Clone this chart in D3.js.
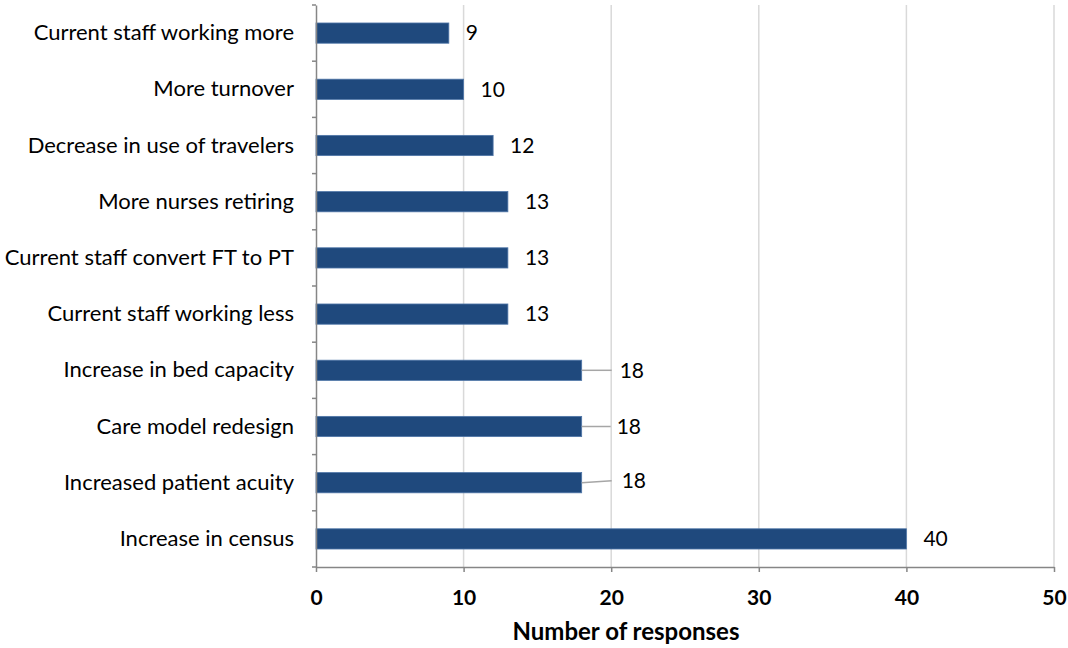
<!DOCTYPE html>
<html>
<head>
<meta charset="utf-8">
<script src="https://cdn.jsdelivr.net/npm/d3@7"></script>
<style>
  body { margin: 0; background: #fff; }
  text { font-family: "Lato", "Open Sans", sans-serif; }
</style>
</head>
<body>
<svg id="chart" width="1068" height="648"></svg>
<script>
// categories top to bottom, as in the picture
var categories = [
  "Current staff working more",
  "More turnover",
  "Decrease in use of travelers",
  "More nurses retiring",
  "Current staff convert FT to PT",
  "Current staff working less",
  "Increase in bed capacity",
  "Care model redesign",
  "Increased patient acuity",
  "Increase in census"
];
var responses = [9, 10, 12, 13, 13, 13, 18, 18, 18, 40];
var xTicks = [0, 10, 20, 30, 40, 50];
var xTitle = "Number of responses";

var svg = d3.select("#chart"),
    margin = {top: 5, right: 14, bottom: 81, left: 316},
    width = 1068 - margin.left - margin.right,
    height = 648 - margin.top - margin.bottom;

var g = svg.append("g").attr("transform", "translate(" + margin.left + "," + margin.top + ")");

var x = d3.scaleLinear().domain([0, 50]).range([0, width]);
var y = d3.scaleBand().domain(categories).range([0, height]).paddingInner(0.64).paddingOuter(0.32);

// gridlines
g.append("g")
  .selectAll("line")
  .data(xTicks.slice(1))
  .enter().append("line")
  .attr("x1", function(d) { return x(d); })
  .attr("x2", function(d) { return x(d); })
  .attr("y1", 0)
  .attr("y2", height)
  .attr("stroke", "#d9d9d9")
  .attr("stroke-width", 1.5);

// bars
g.append("g")
  .selectAll("rect")
  .data(categories)
  .enter().append("rect")
  .attr("x", 0)
  .attr("y", function(d) { return y(d); })
  .attr("width", function(d, i) { return x(responses[i]); })
  .attr("height", y.bandwidth())
  .attr("fill", "#1f497d")
  .attr("stroke", "#4f76a8")
  .attr("stroke-width", 0.8);

// value labels (the 18s sit further out with a leader line)
var leader = {"Increase in bed capacity": 0, "Care model redesign": -3, "Increased patient acuity": 2};
categories.forEach(function(c, i) {
  var v = responses[i],
      cy = y(c) + y.bandwidth() / 2,
      xe = x(v);
  if (c in leader) {
    var tipY = c === "Increased patient acuity" ? cy - 2 : cy;
    g.append("line")
      .attr("x1", xe).attr("y1", cy)
      .attr("x2", xe + 30 + (leader[c] < 0 ? -1 : 0)).attr("y2", tipY)
      .attr("stroke", "#a6a6a6").attr("stroke-width", 1.5);
    g.append("text")
      .attr("x", xe + 38 + leader[c])
      .attr("y", tipY)
      .attr("dy", "0.35em")
      .attr("font-size", 21)
      .text(v);
  } else {
    g.append("text")
      .attr("x", xe + 17)
      .attr("y", cy)
      .attr("dy", "0.35em")
      .attr("font-size", 21)
      .text(v);
  }
});

// y axis
var yAxis = g.append("g")
  .call(d3.axisLeft(y).tickSize(0).tickPadding(22));
yAxis.select(".domain").attr("stroke", "#868686").attr("stroke-width", 1.5);
yAxis.selectAll("text").attr("font-size", 22).attr("fill", "#000");
// category boundary ticks
var bounds = d3.range(categories.length + 1).map(function(i) { return i * height / categories.length; });
g.append("g").selectAll("line")
  .data(bounds)
  .enter().append("line")
  .attr("x1", -4).attr("x2", 0)
  .attr("y1", function(d) { return d; }).attr("y2", function(d) { return d; })
  .attr("stroke", "#868686").attr("stroke-width", 1.5);

// x axis
var xAxis = g.append("g")
  .attr("transform", "translate(0," + height + ")")
  .call(d3.axisBottom(x).tickValues(xTicks).tickSize(5).tickPadding(18).tickSizeOuter(0));
xAxis.select(".domain").attr("stroke", "#868686").attr("stroke-width", 1.5);
xAxis.selectAll(".tick line").attr("stroke", "#868686").attr("stroke-width", 1.5);
xAxis.selectAll("text").attr("font-size", 21).attr("font-weight", "bold").attr("fill", "#000");

svg.append("text")
  .attr("x", 626)
  .attr("y", 640)
  .attr("text-anchor", "middle")
  .attr("font-size", 24)
  .attr("font-weight", "bold")
  .text(xTitle);
</script>
</body>
</html>
